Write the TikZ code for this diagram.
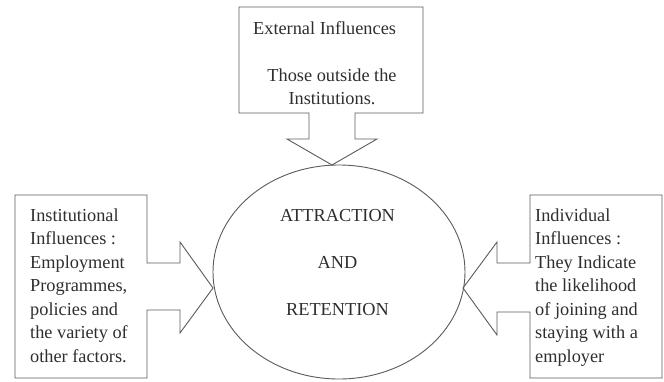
\documentclass[tikz,border=0pt]{standalone}
\usepackage{fontspec}
\setmainfont{Liberation Serif}
\usetikzlibrary{shapes.geometric}
\definecolor{linec}{HTML}{5A5A5A}
\definecolor{textc}{HTML}{2E2E2E}
\begin{document}
\begin{tikzpicture}[x=1pt,y=-1pt,
  outline/.style={draw=linec, line width=0.9pt, line join=miter},
  txt/.style={inner sep=0pt, text=textc, font=\fontsize{18.3}{23.5}\selectfont},
  bigtxt/.style={inner sep=0pt, text=textc, font=\fontsize{18.3}{47}\selectfont}]
\useasboundingbox (0,0) rectangle (664,381);
% top box with arrow
\draw[outline] (239,7) -- (423,7) -- (423,113) -- (355,113) -- (355,139) -- (377,139)
  -- (332,165) -- (287,139) -- (309,139) -- (309,113) -- (239,113) -- cycle;
% left box with arrow
\draw[outline] (15,195) -- (147,195) -- (147,263) -- (180,263) -- (180,242) -- (213,288)
  -- (180,333) -- (180,310) -- (147,310) -- (147,378) -- (15,378) -- cycle;
% right box with arrow
\draw[outline] (530,195) -- (662,195) -- (662,378) -- (530,378) -- (530,312) -- (497,312)
  -- (497,335) -- (463,288) -- (497,242) -- (497,263) -- (530,263) -- cycle;
% central ellipse
\node[ellipse, outline, minimum width=252pt, minimum height=214pt, inner sep=0pt] (core) at (339,272) {};
\node[bigtxt, align=center, anchor=north] (coretxt) at (337.5,209) {ATTRACTION\\AND\\RETENTION};
% texts
\node[txt, anchor=north west] (exthead) at (253,21.5) {External Influences};
\node[txt, anchor=north, align=center] (extbody) at (332,68.5) {Those outside the\\Institutions.};
\node[txt, anchor=north west, align=left] (insttxt) at (30,208.5) {Institutional\\Influences :\\Employment\\Programmes,\\policies and\\the variety of\\other factors.};
\node[txt, anchor=north west, align=left] (indtxt) at (535,208.5) {Individual\\Influences :\\They Indicate\\the likelihood\\of joining and\\staying with a\\employer};
\end{tikzpicture}
\end{document}
